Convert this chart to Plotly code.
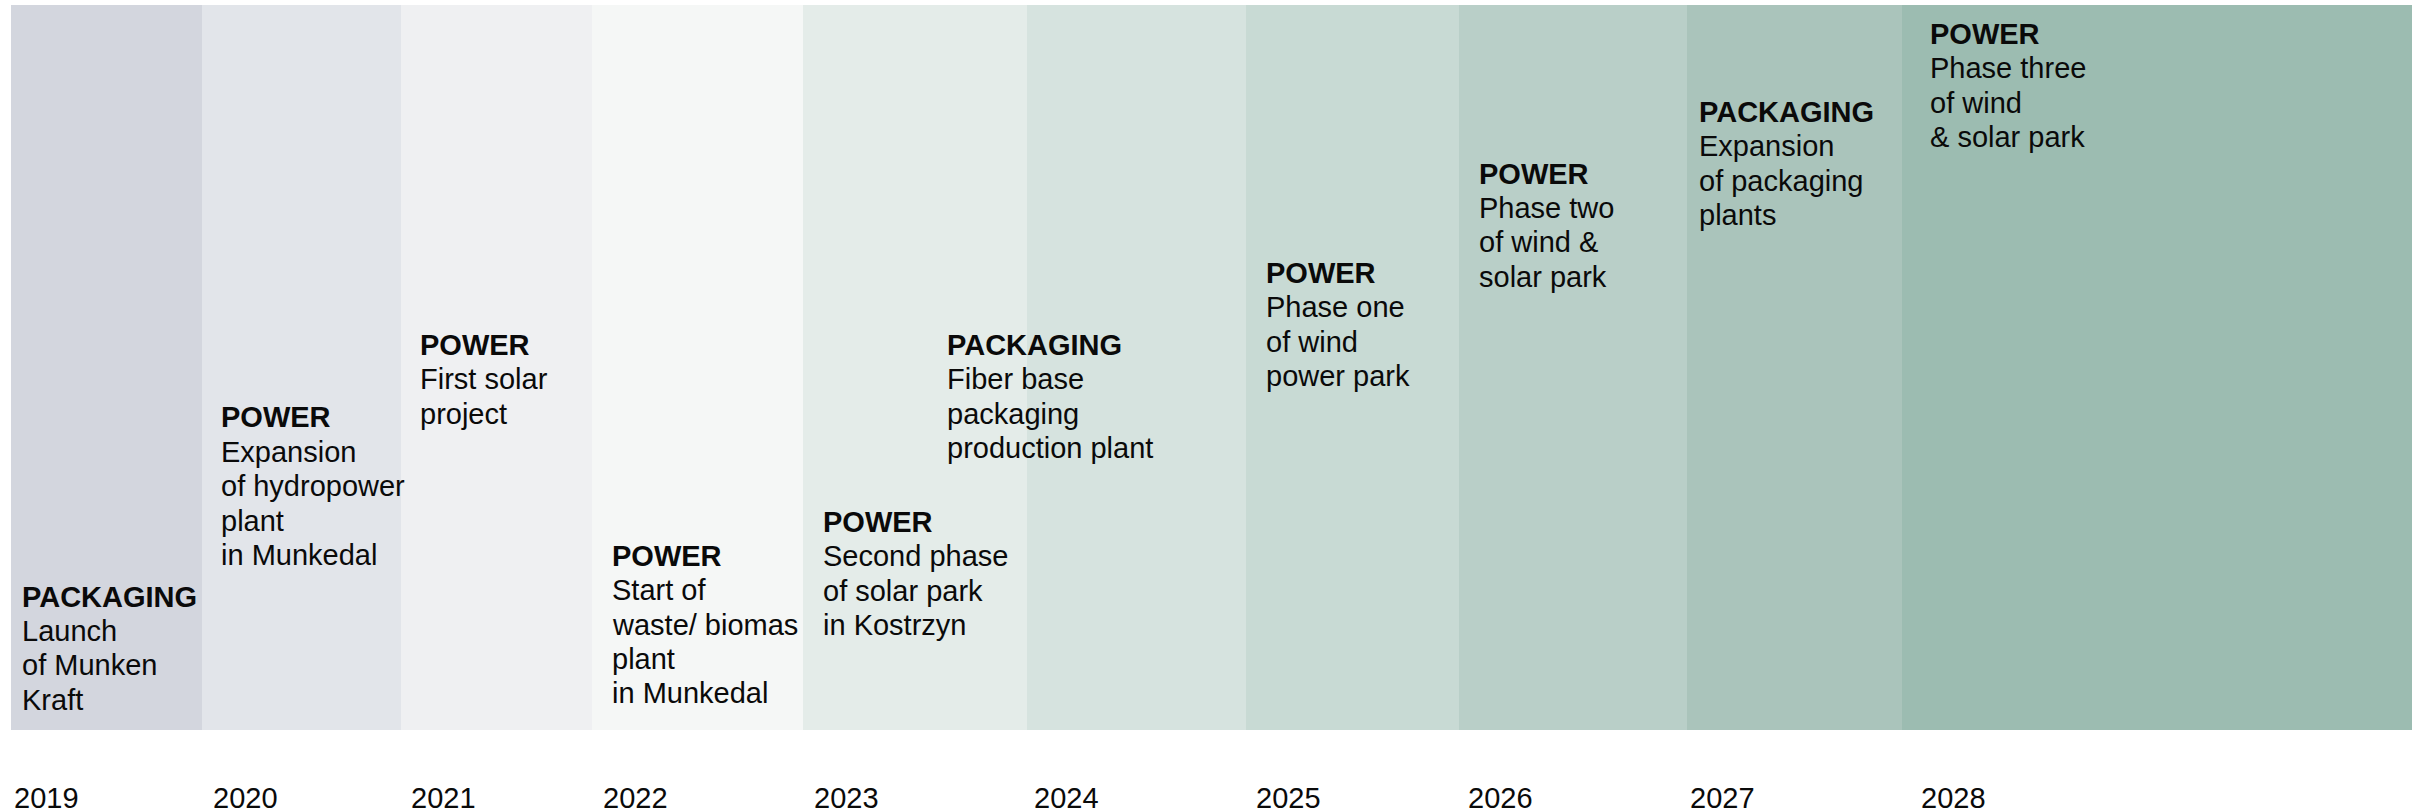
import plotly.graph_objects as go

# ---- data -------------------------------------------------------------
years = [2019, 2020, 2021, 2022, 2023, 2024, 2025, 2026, 2027, 2028]
band_left = [11, 202, 401, 592, 803, 1027, 1246, 1459, 1687, 1902]
band_right = [202, 401, 592, 803, 1027, 1246, 1459, 1687, 1902, 2412]
band_colors = ["#D3D6DE", "#E2E5EA", "#EFF0F2", "#F5F7F6", "#E4ECE9",
               "#D6E3DF", "#C8DAD4", "#B9CFC8", "#AAC4BB", "#9CBCB1"]
categories = ["PACKAGING", "POWER", "POWER", "POWER", "POWER",
              "PACKAGING", "POWER", "POWER", "PACKAGING", "POWER"]
descriptions = [
    ["Launch", "of Munken", "Kraft"],
    ["Expansion", "of hydropower", "plant", "in Munkedal"],
    ["First solar", "project"],
    ["Start of", "waste/ biomas", "plant", "in Munkedal"],
    ["Second phase", "of solar park", "in Kostrzyn"],
    ["Fiber base", "packaging", "production plant"],
    ["Phase one", "of wind", "power park"],
    ["Phase two", "of wind &", "solar park"],
    ["Expansion", "of packaging", "plants"],
    ["Phase three", "of wind", "& solar park"],
]
label_x = [21.7, 221.4, 420, 611.6, 823.3, 947, 1265.6, 1478.6, 1699, 1930.3]
label_height = [135.4, 314.6, 387, 176.3, 210, 387, 459, 558.5, 620, 698.3]
year_label_x = [13.8, 212.7, 411, 603, 813.6, 1033.7, 1255.8, 1468, 1690, 1921]

# ---- layout constants ---------------------------------------------------
W, H = 2412, 812
BASELINE_PX = 732
BAND_BOTTOM, BAND_TOP = 2, 727
LINE_GAP = 34.4
YEAR_Y = -66
FONT = "Liberation Sans, Arial, Helvetica, sans-serif"
FS = 29
TEXT_COLOR = "#0a0a0a"

centers = [(l + r) / 2 for l, r in zip(band_left, band_right)]
widths = [r - l for l, r in zip(band_left, band_right)]

fig = go.Figure()
fig.add_trace(go.Bar(
    x=centers, width=widths,
    y=[BAND_TOP - BAND_BOTTOM] * len(years), base=BAND_BOTTOM,
    marker=dict(color=band_colors, line=dict(width=0)),
    hoverinfo="skip", showlegend=False,
))


def note(x, y, text):
    return dict(
        x=x, y=y, xref="x", yref="y", text=text,
        showarrow=False, xanchor="left", yanchor="middle",
        borderpad=0, borderwidth=0,
        font=dict(family=FONT, size=FS, color=TEXT_COLOR),
    )


annotations = []
for i, yr in enumerate(years):
    y0 = label_height[i]
    annotations.append(note(label_x[i], y0, f"<b>{categories[i]}</b>"))
    for j, line in enumerate(descriptions[i]):
        annotations.append(note(label_x[i], y0 - (j + 1) * LINE_GAP, line))
    annotations.append(note(year_label_x[i], YEAR_Y, str(yr)))

fig.update_layout(
    width=W, height=H,
    margin=dict(l=0, r=0, t=0, b=0),
    paper_bgcolor="white", plot_bgcolor="white",
    xaxis=dict(range=[0, W], visible=False, fixedrange=True),
    yaxis=dict(range=[BASELINE_PX - H, BASELINE_PX], visible=False, fixedrange=True),
    annotations=annotations,
    bargap=0,
)

fig.write_html(
    "out.html",
    config={"displayModeBar": False},
    post_script="document.body.style.margin='0';document.body.style.overflow='hidden';",
)
